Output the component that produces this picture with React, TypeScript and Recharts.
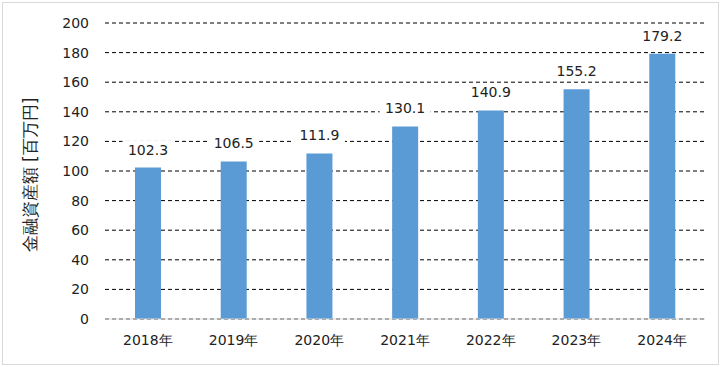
import React from 'react';
import { BarChart, Bar, CartesianGrid, XAxis, YAxis, LabelList } from 'recharts';

const years = ['2018年', '2019年', '2020年', '2021年', '2022年', '2023年', '2024年'];
const assets = [102.3, 106.5, 111.9, 130.1, 140.9, 155.2, 179.2];
const yTicks = [0, 20, 40, 60, 80, 100, 120, 140, 160, 180, 200];

const data = years.map((y, i) => ({ year: y, value: assets[i] }));

const font = '"DejaVu Sans", Verdana, sans-serif';

const ValueLabel = (props: any) => {
    const { x, y, width, value } = props;
    const cx = x + width / 2;
    const cy = y - 18;
    const txt = value.toFixed(1);
    const w = txt.length * 9 + 6;
    return (
        <g>
            <rect x={cx - w / 2} y={cy - 9} width={w} height={18} fill="#fff" />
            <text x={cx} y={cy} textAnchor="middle" dominantBaseline="central" fill="#222" fontSize={14} fontFamily={font}>{txt}</text>
        </g>
    );
};

const YLabel = () => (
    <text x={30} y={175} transform="rotate(-90 30 175)" textAnchor="middle" dominantBaseline="central" fill="#222" fontSize={17} fontFamily={font}>金融資産額  [百万円]</text>
);

export default function App() {
    return (
        <div style={{ position: 'absolute', left: 0, top: 0, width: 723, height: 367, background: '#fff' }}>
            <div style={{ position: 'absolute', left: 2, top: 2, width: 715, height: 361, border: '1px solid #d9d9d9' }} />
            <BarChart width={723} height={367} data={data} margin={{ top: 23, right: 18, bottom: 8, left: 0 }} barSize={26}>
                <CartesianGrid vertical={false} stroke="#000" strokeDasharray="4 3" />
                <XAxis dataKey="year" height={40} tick={{ fill: '#222', fontSize: 14, fontFamily: font, dy: 8 }} tickLine={false} axisLine={{ stroke: '#d9d9d9' }} />
                <YAxis width={105} domain={[0, 200]} ticks={yTicks} interval={0} tick={{ fill: '#222', fontSize: 14, fontFamily: font, dx: -8 }} tickLine={false} axisLine={false} />
                <Bar dataKey="value" fill="#5b9bd5" isAnimationActive={false}>
                    <LabelList dataKey="value" content={<ValueLabel />} />
                </Bar>
                <YLabel />
            </BarChart>
        </div>
    );
}
